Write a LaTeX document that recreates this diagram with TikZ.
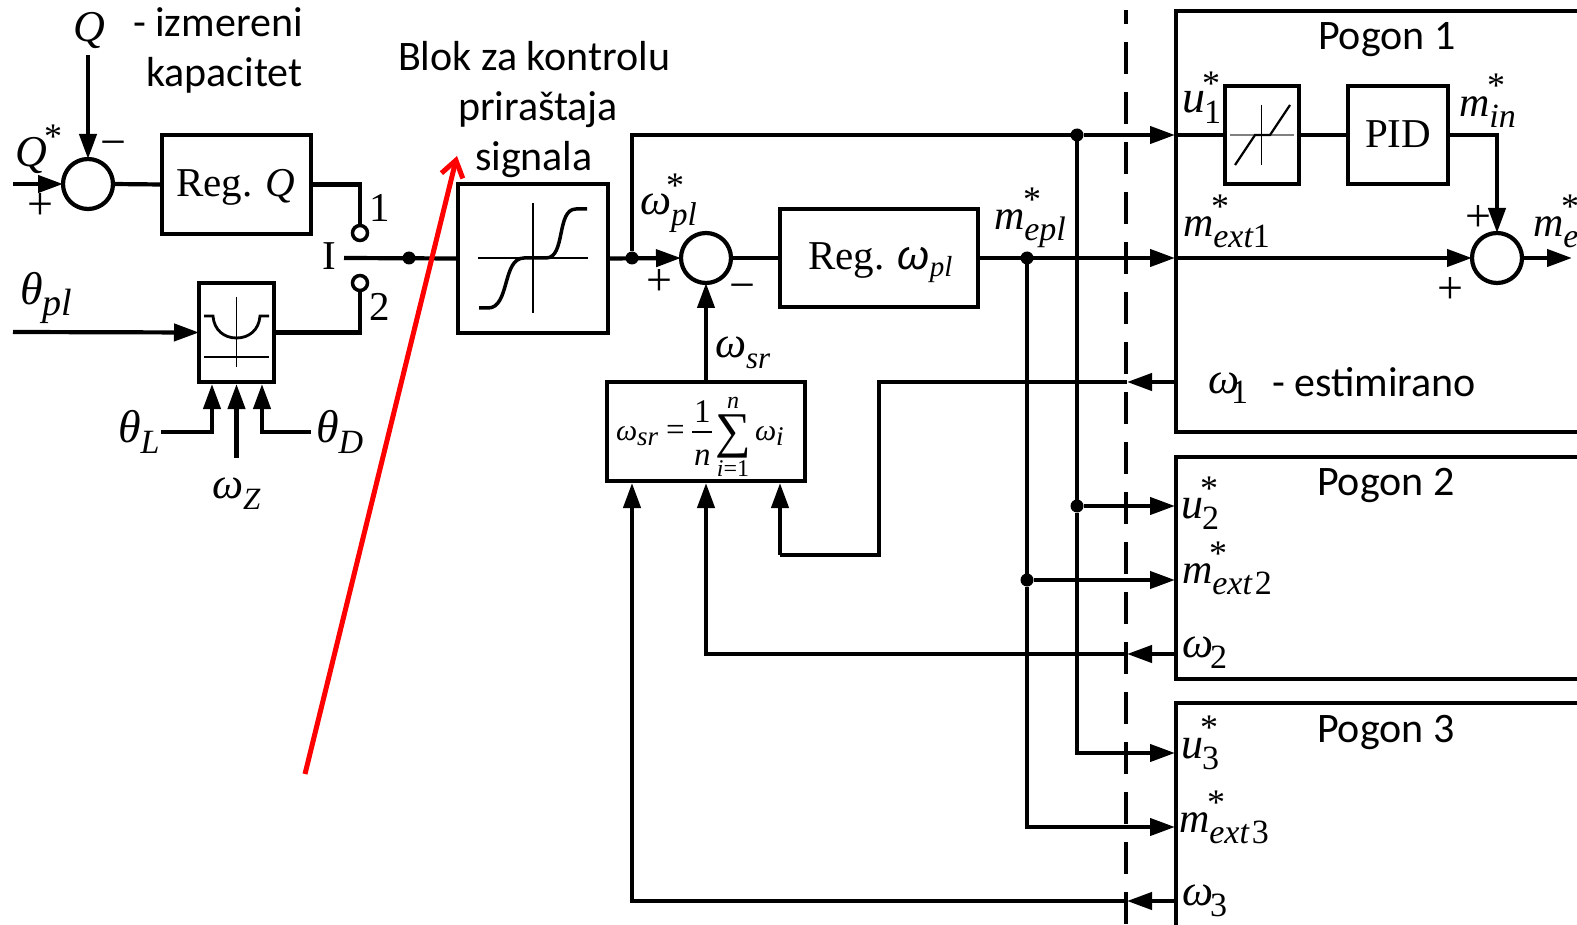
\documentclass[tikz,border=0pt]{standalone}
\usepackage{fontspec}
\setmainfont{Liberation Serif}
\newfontfamily\calfont{Carlito}
\newfontfamily\sansgr{Liberation Sans}
\usetikzlibrary{arrows.meta}
\newcommand\sy[2]{#1\raisebox{-11pt}{\fontsize{34}{34}\selectfont #2}}
\newcommand\sm[2]{#1\raisebox{-5pt}{\fontsize{27}{27}\selectfont #2}}
\newcommand\up[1]{{\upshape #1}}
\newcommand\gth{{\fontsize{46}{46}\selectfont θ}}
\newcommand\gom{{\fontsize{44}{44}\selectfont ω}}
\newcommand\gu{{\fontsize{44}{44}\selectfont u}}
\newcommand\gm{{\fontsize{42}{42}\selectfont m}}
\tikzset{
  x=1pt,y=-1pt,
  every path/.style={line width=4.2pt},
  arr/.style={-{Triangle[length=25pt,width=17pt]}},
  box/.style={draw,rectangle,inner sep=0pt,outer sep=0pt,line width=4.2pt},
  sumc/.style={draw,circle,minimum size=50pt,inner sep=0pt,outer sep=0pt,line width=4.2pt},
  jdot/.style={fill,circle,minimum size=13pt,inner sep=0pt,outer sep=0pt},
  opn/.style={draw,circle,fill=white,minimum size=15pt,inner sep=0pt,outer sep=0pt,line width=3.5pt},
  lbl/.style={anchor=base west,inner sep=0pt,outer sep=0pt,font=\fontsize{40}{40}\selectfont\itshape},
  rml/.style={anchor=base west,inner sep=0pt,outer sep=0pt,font=\fontsize{41}{41}\selectfont},
  ctxt/.style={anchor=base west,inner sep=0pt,outer sep=0pt,yshift=-2pt,font=\fontsize{42}{42}\selectfont\calfont},
  starl/.style={anchor=base,inner sep=0pt,outer sep=0pt,yshift=-17pt,font=\fontsize{36}{36}\selectfont},
  sign/.style={anchor=base,inner sep=0pt,outer sep=0pt,yshift=-11.5pt,font=\fontsize{46}{46}\selectfont},
  fml/.style={anchor=base west,inner sep=0pt,outer sep=0pt,font=\fontsize{33}{33}\selectfont\itshape},
  fmc/.style={anchor=base,inner sep=0pt,outer sep=0pt,font=\fontsize{24}{24}\selectfont\itshape},
  axis/.style={line width=1.3pt},
  curve/.style={line width=2.8pt},
}
\begin{document}
\begin{tikzpicture}
\useasboundingbox (0,0) rectangle (1577,925);
% blocks
\node[sumc] (sumQ) at (88,184) {};
\node[box,minimum width=149pt,minimum height=99pt] (regQ) at (236.5,184.5) {};
\node[opn] (sw1) at (360,233) {};
\node[opn] (sw2) at (360,283) {};
\node[box,minimum width=75pt,minimum height=99pt] (cam) at (236.5,332.5) {};
\node[box,minimum width=150pt,minimum height=149pt] (lim) at (533,258.5) {};
\node[sumc] (sumW) at (706,258) {};
\node[box,minimum width=198pt,minimum height=98pt] (regW) at (879,258) {};
\node[box,minimum width=198pt,minimum height=99pt] (avg) at (706,431.5) {};
\node[box,minimum width=420pt,minimum height=421pt] (pog1) at (1386,221.5) {};
\node[box,minimum width=420pt,minimum height=222pt] (pog2) at (1386,568) {};
\node[box,minimum width=420pt,minimum height=240pt] (pog3) at (1386,823) {};
\node[box,minimum width=74pt,minimum height=98pt] (sat) at (1262,135) {};
\node[box,minimum width=100pt,minimum height=98pt] (pid) at (1398,135) {};
\node[sumc] (sum1) at (1497,258) {};
% free ends
\coordinate (qin) at (13,184);
\coordinate (qtop) at (88,55);
\coordinate (swc) at (344,258);
\coordinate (thin) at (13,332);
\coordinate (camL) at (212,384);
\coordinate (camM) at (236.5,384);
\coordinate (camR) at (262,384);
\coordinate (tL) at (161,432);
\coordinate (wZ) at (236.5,458);
\coordinate (tD) at (311,432);
\coordinate (u1in) at (1175,135);
\coordinate (m1in) at (1175,258);
\coordinate (u2in) at (1175,506);
\coordinate (m2in) at (1175,580);
\coordinate (u3in) at (1175,753);
\coordinate (m3in) at (1175,827);
\coordinate (w1b) at (1176,382);
\coordinate (w2b) at (1176,654);
\coordinate (w3b) at (1176,901);
\coordinate (w1t) at (1127,382);
\coordinate (w2t) at (1127,654);
\coordinate (w3t) at (1127,901);
\coordinate (a3) at (632,483);
\coordinate (a2) at (706,483);
\coordinate (a1) at (780,483);
\coordinate (k1) at (879,382);
\coordinate (k2) at (879,555);
\coordinate (k3) at (780,555);
\coordinate (outm) at (1572,258);
\coordinate (sat1) at (1176,135);
\coordinate (m1b) at (1176,258);
% junctions
\node[jdot] (j1) at (409,258) {};
\node[jdot] (j2) at (632,258) {};
\node[jdot] (j3) at (1027,258) {};
\node[jdot] (j4) at (1077,135) {};
\node[jdot] (j5) at (1077,506) {};
\node[jdot] (j6) at (1027,580) {};
% connectors
\draw[arr] (qin) -- (sumQ.west);
\draw[arr] (qtop) -- (sumQ.north);
\draw (sumQ.east) -- (regQ.west);
\draw (regQ.east) -| (sw1.north);
\draw (swc) -- (lim.west);
\draw[arr] (thin) -- (cam.west);
\draw (cam.east) -| (sw2.south);
\draw[arr] (tL) -| (camL);
\draw[arr] (wZ) -- (camM);
\draw[arr] (tD) -| (camR);
\draw[arr] (lim.east) -- (sumW.west);
\draw (j2) |- (j4);
\draw[arr] (j4) -- (u1in);
\draw[arr] (avg.north) -- (sumW.south);
\draw (sumW.east) -- (regW.west);
\draw[arr] (regW.east) -- (m1in);
\draw (j3) -- (j6);
\draw[arr] (j6) |- (m3in);
\draw[arr] (j6) -- (m2in);
\draw (j4) -- (j5);
\draw[arr] (j5) |- (u3in);
\draw[arr] (j5) -- (u2in);
\draw (sat1) -- (sat.west);
\draw (sat.east) -- (pid.west);
\draw[arr] (pid.east) -| (sum1.north);
\draw[arr] (m1b) -- (sum1.west);
\draw[arr] (sum1.east) -- (outm);
\draw[arr] (w1b) -- (w1t);
\draw[arr] (w2b) -- (w2t);
\draw[arr] (w3b) -- (w3t);
\draw (w1t) -- (k1) -- (k2) -- (k3);
\draw[arr] (k3) -- (a1);
\draw[arr] (w2t) -| (a2);
\draw[arr] (w3t) -| (a3);
% dashed boundary
\coordinate (dash1) at (1126,10);
\coordinate (dash2) at (1126,925);
\draw[dash pattern=on 32pt off 18pt,dash phase=18pt] (dash1) -- (dash2);
% block glyphs
\draw[axis] (236.5,297) -- (236.5,367);
\draw[axis] (204,357) -- (269,357);
\draw[curve] (204,316) -- (213,316) .. controls (214,330) and (224,338) .. (236.5,338) .. controls (249,338) and (259,330) .. (260,316) -- (269,316);
\draw[line width=2pt] (533,203) -- (533,313);
\draw[line width=2pt] (478,258) -- (588,258);
\draw[line width=3.5pt] (479,308) -- (488,308) .. controls (510,308) and (502,258) .. (524,258) -- (546,258) .. controls (566,258) and (556,209) .. (576,209) -- (587,209);
\draw[axis] (1261.5,105) -- (1261.5,165);
\draw[axis,draw=gray] (1230,135) -- (1294,135);
\draw[line width=2.2pt] (1235,165) -- (1255,135) -- (1270,135) -- (1290,105);
% left labels
\node[lbl,font=\fontsize{44}{44}\selectfont\itshape] (lQ) at (73,42) {Q};
\node[lbl,font=\fontsize{44}{44}\selectfont\itshape] (lQs) at (15,167) {Q};
\node[starl] (sQ) at (53,132) {*};
\node[sign] (pQ) at (40,208) {+};
\node[sign] (mQ) at (113,146) {−};
\node[rml] (tRegQ) at (176,197) {Reg. \textit{Q}};
\node[rml] (tI) at (322,270) {I};
\node[rml] (t1) at (369,222) {1};
\node[rml] (t2) at (369,320) {2};
\node[lbl] (lthpl) at (20,305) {\sy{\gth}{\fontsize{38}{38}\selectfont pl}};
\node[lbl] (lthL) at (118,442) {\sy{\gth}{L}};
\node[lbl] (lthD) at (316,442) {\sy{\gth}{D}};
\node[lbl] (lwZ) at (212,498) {\sy{\gom}{\fontsize{31}{31}\selectfont Z}};
\node[ctxt] (tizm) at (133,35) {- izmereni};
\node[ctxt] (tkap) at (146,85) {kapacitet};
\node[ctxt] (tb1) at (398,69) {Blok za kontrolu};
\node[ctxt] (tb2) at (458,119) {priraštaja};
\node[ctxt] (tb3) at (475,169) {signala};
% centre labels
\node[lbl] (lwpl) at (640,215) {\sy{\gom}{\fontsize{33}{33}\selectfont pl}};
\node[starl] (swpl) at (675,181) {*};
\node[sign] (pW) at (659,284) {+};
\node[sign] (mW) at (742,289) {−};
\node[rml] (tRegW) at (808,270) {Reg. {\sansgr\itshape ω}\raisebox{-7pt}{\fontsize{29}{29}\selectfont\itshape pl}};
\node[lbl] (lmepl) at (994,230) {\sy{\gm}{epl}};
\node[starl] (smepl) at (1032,195) {*};
\node[lbl] (lwsr) at (715,357) {\sy{\gom}{\fontsize{31}{31}\selectfont sr}};
% formula
\node[fml,font=\fontsize{30}{30}\selectfont\itshape] (f1) at (616,440) {\sm{ω}{sr}};
\node[fml] (f2) at (666,440) {\upshape =};
\node[fml] (f3) at (694,422) {\upshape 1};
\coordinate (fb1) at (692,432);
\coordinate (fb2) at (712,432);
\draw[line width=1.2pt] (fb1) -- (fb2);
\node[fml] (f4) at (694,465) {n};
\node[anchor=base,inner sep=0pt,font=\fontsize{50}{50}\selectfont] (f5) at (733,447) {∑};
\node[fmc] (f6) at (733,408) {n};
\node[fmc] (f7) at (733,476) {i\upshape =1};
\node[fml,font=\fontsize{30}{30}\selectfont\itshape] (f8) at (755,440) {\sm{ω}{i}};
% Pogon 1
\node[ctxt] (tp1) at (1318,48) {Pogon 1};
\node[lbl] (lu1) at (1182,113) {\sy{{\fontsize{46}{46}\selectfont u}\kern-1pt}{\up{1}}};
\node[starl] (su1) at (1211,79) {*};
\node[lbl] (lm1) at (1183,237) {\sy{\gm}{ext\up{1}}};
\node[starl] (sm1) at (1220,202) {*};
\node[lbl] (lmin) at (1459,117) {\sy{\gm}{in}};
\node[starl] (smin) at (1496,81) {*};
\node[lbl] (lme) at (1533,237) {\sy{\gm}{e}};
\node[starl] (sme) at (1570,202) {*};
\node[rml] (tPID) at (1365,148) {PID};
\node[sign] (p1a) at (1478,220) {+};
\node[sign] (p1b) at (1450,292) {+};
\node[lbl] (lw1) at (1208,393) {\gom\kern-8pt\raisebox{-10pt}{\fontsize{34}{34}\selectfont\upshape 1}};
\node[ctxt] (test) at (1272,394) {- estimirano};
% Pogon 2
\node[ctxt] (tp2) at (1317,493) {Pogon 2};
\node[lbl] (lu2) at (1181,518) {\sy{\gu\kern-1pt}{\up{2}}};
\node[starl] (su2) at (1209,483) {*};
\node[lbl] (lm2) at (1182,583) {\sy{\gm}{ext\kern3pt\up{2}}};
\node[starl] (sm2) at (1218,548) {*};
\node[lbl] (lw2) at (1182,657) {\sy{\gom\kern-3pt}{\up{2}}};
% Pogon 3
\node[ctxt] (tp3) at (1317,740) {Pogon 3};
\node[lbl] (lu3) at (1181,758) {\sy{\gu\kern-1pt}{\up{3}}};
\node[starl] (su3) at (1209,722) {*};
\node[lbl] (lm3) at (1179,832) {\sy{\gm}{ext\kern3pt\up{3}}};
\node[starl] (sm3) at (1216,797) {*};
\node[lbl] (lw3) at (1182,905) {\sy{\gom\kern-3pt}{\up{3}}};
% red annotation arrow
\coordinate (r1) at (305,774);
\coordinate (r2) at (457,156);
\draw[red,line width=5pt,-{Straight Barb[length=16pt,width=22pt]}] (r1) -- (r2);
\end{tikzpicture}
\end{document}
